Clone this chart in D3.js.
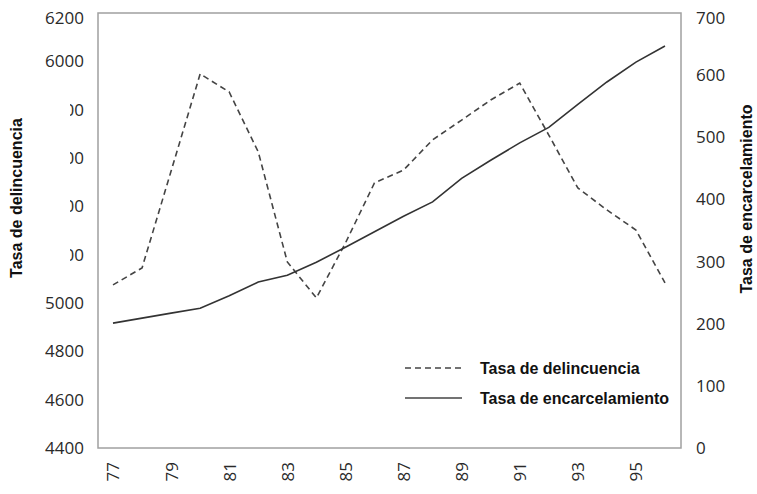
<!DOCTYPE html>
<html>
<head>
<meta charset="utf-8">
<script src="https://cdn.jsdelivr.net/npm/d3@7"></script>
<style>
  body { margin: 0; background: #fff; }
  svg { display: block; }
</style>
</head>
<body>
<div id="viz-container"></div>
<script>
// Data
const years = [77, 78, 79, 80, 81, 82, 83, 84, 85, 86, 87, 88, 89, 90, 91, 92, 93, 94, 95, 96];
const delincuencia = [5075, 5145, 5546, 5948, 5873, 5625, 5170, 5021, 5248, 5497,
                      5550, 5675, 5757, 5840, 5910, 5695, 5476, 5385, 5302, 5083];
const encarcelamiento = [201, 209, 217, 225, 245, 267, 278, 299, 323, 348,
                         373, 396, 434, 463, 491, 516, 553, 589, 621, 647];
const xTicks = [77, 79, 81, 83, 85, 87, 89, 91, 93, 95];
const leftTicks = [4400, 4600, 4800, 5000, 5200, 5400, 5600, 5800, 6000, 6200];
const rightTicks = [0, 100, 200, 300, 400, 500, 600, 700];
const seriesNames = ["Tasa de delincuencia", "Tasa de encarcelamiento"];

const W = 757, H = 494;
const frame = { left: 98, right: 681, top: 13, bottom: 448 };

const svg = d3.select("#viz-container")
    .append("svg")
    .attr("width", W)
    .attr("height", H);

// scales
const x = d3.scaleLinear().domain([77, 96]).range([113, 665]);
const yL = d3.scaleLinear().domain([4400, 6200]).range([frame.bottom, frame.top]);
const yR = d3.scaleLinear().domain([0, 700]).range([frame.bottom, frame.top]);

const tickFont = "'Open Sans', sans-serif";
const boldFont = "'Liberation Sans', Arial, sans-serif";

// frame
svg.append("rect")
    .attr("x", frame.left)
    .attr("y", frame.top)
    .attr("width", frame.right - frame.left)
    .attr("height", frame.bottom - frame.top)
    .attr("fill", "none")
    .attr("stroke", "#a0a0a0")
    .attr("stroke-width", 1.5);

// left axis
const leftAxis = svg.append("g")
    .attr("transform", `translate(${frame.left},0)`)
    .call(d3.axisLeft(yL).tickValues(leftTicks).tickSize(0).tickPadding(14).tickFormat(d3.format("d")));
leftAxis.select(".domain").remove();
leftAxis.selectAll("text")
    .attr("font-family", tickFont)
    .attr("font-size", "17px")
    .attr("fill", "#2a2a2a")
    .attr("dy", d => d === 6200 ? "0.6em" : "0.32em");

// white block hiding part of the left labels, as in the reference
svg.append("rect")
    .attr("x", 0)
    .attr("y", 86)
    .attr("width", 70)
    .attr("height", 180)
    .attr("fill", "#fff");

// right axis
const rightAxis = svg.append("g")
    .attr("transform", `translate(${frame.right},0)`)
    .call(d3.axisRight(yR).tickValues(rightTicks).tickSize(0).tickPadding(15));
rightAxis.select(".domain").remove();
rightAxis.selectAll("text")
    .attr("font-family", tickFont)
    .attr("font-size", "17px")
    .attr("fill", "#2a2a2a")
    .attr("dy", d => d === 700 ? "0.6em" : "0.32em");

// bottom axis (rotated labels)
const bottomAxis = svg.append("g")
    .attr("transform", `translate(0,${frame.bottom})`)
    .call(d3.axisBottom(x).tickValues(xTicks).tickSize(0));
bottomAxis.select(".domain").remove();
bottomAxis.selectAll("text")
    .attr("font-family", tickFont)
    .attr("font-size", "17px")
    .attr("fill", "#2a2a2a")
    .attr("text-anchor", "end")
    .attr("transform", "rotate(-90)")
    .attr("x", -14)
    .attr("y", 0)
    .attr("dy", "0.35em");

// lines
const lineL = d3.line()
    .x((d, i) => x(years[i]))
    .y(d => yL(d));
const lineR = d3.line()
    .x((d, i) => x(years[i]))
    .y(d => yR(d));

svg.append("path")
    .datum(delincuencia)
    .attr("fill", "none")
    .attr("stroke", "#444")
    .attr("stroke-width", 1.6)
    .attr("stroke-dasharray", "6,4")
    .attr("d", lineL);

svg.append("path")
    .datum(encarcelamiento)
    .attr("fill", "none")
    .attr("stroke", "#333")
    .attr("stroke-width", 1.6)
    .attr("d", lineR);

// axis titles
svg.append("text")
    .attr("transform", "translate(22,198) rotate(-90)")
    .attr("text-anchor", "middle")
    .attr("font-family", boldFont)
    .attr("font-weight", "bold")
    .attr("font-size", "16px")
    .attr("fill", "#111")
    .text(seriesNames[0]);

svg.append("text")
    .attr("transform", "translate(752,199) rotate(-90)")
    .attr("text-anchor", "middle")
    .attr("font-family", boldFont)
    .attr("font-weight", "bold")
    .attr("font-size", "16px")
    .attr("fill", "#111")
    .text(seriesNames[1]);

// legend
const legend = svg.append("g").attr("transform", "translate(405,368)");
seriesNames.forEach((name, i) => {
    const row = legend.append("g").attr("transform", `translate(0,${i * 30})`);
    row.append("line")
        .attr("x1", 0).attr("x2", 57)
        .attr("y1", 0).attr("y2", 0)
        .attr("stroke", "#444")
        .attr("stroke-width", 1.5)
        .attr("stroke-dasharray", i === 0 ? "6,4" : null);
    row.append("text")
        .attr("x", 75)
        .attr("y", 0)
        .attr("dy", "0.35em")
        .attr("font-family", boldFont)
        .attr("font-weight", "bold")
        .attr("font-size", "16px")
        .attr("fill", "#111")
        .text(name);
});
</script>
</body>
</html>
